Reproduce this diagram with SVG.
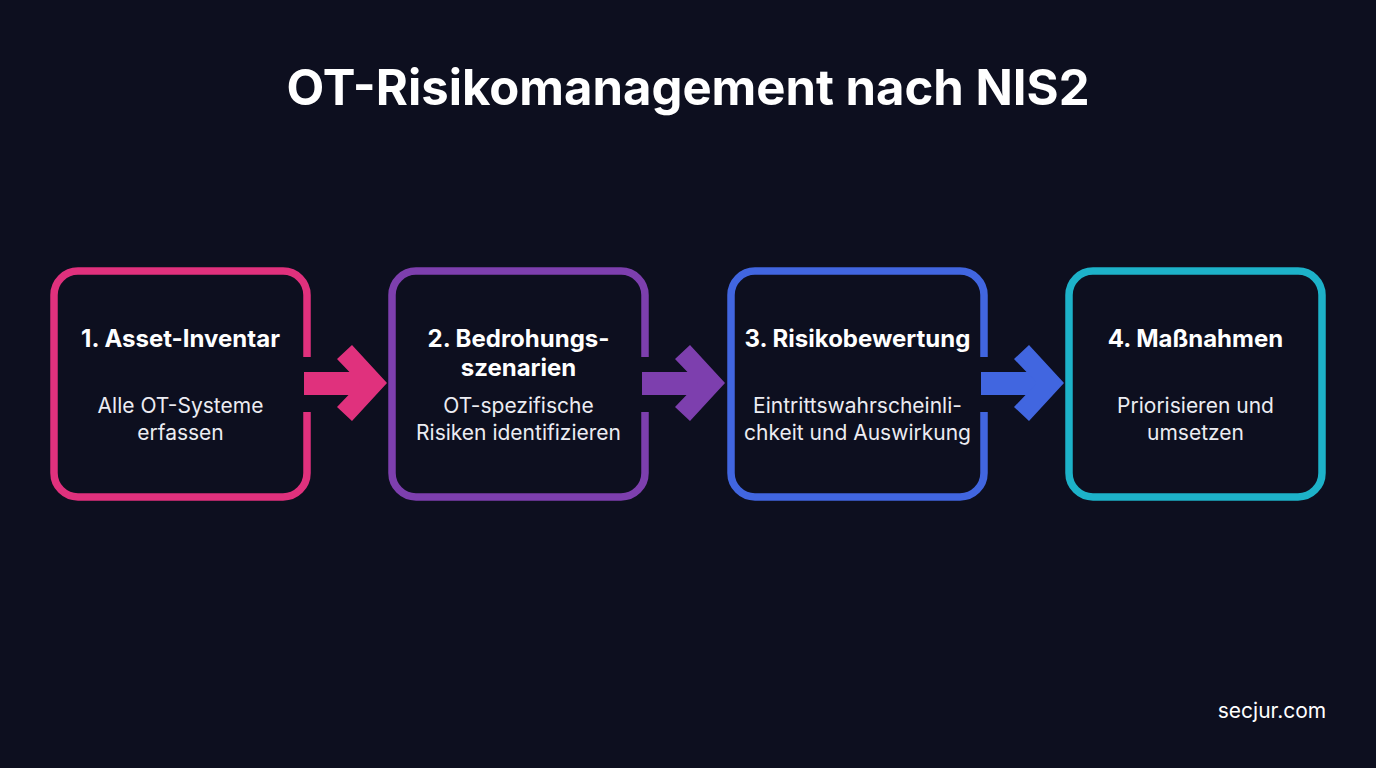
<svg xmlns="http://www.w3.org/2000/svg" width="1376" height="768" viewBox="0 0 1376 768">
<style>
.t{font-family:Inter,"Liberation Sans",sans-serif;fill:#ffffff;text-anchor:middle}
.title{font-size:49px;font-weight:700}
.h{font-size:24px;font-weight:700}
.s{font-size:21px;font-weight:400;fill:#ececf2}
.box{fill:none;stroke-width:7.5}
</style>
<rect width="1376" height="768" fill="#0d0f1f"/>
<text class="t title" x="688" y="105">OT-Risikomanagement nach NIS2</text>

<g id="connectors">
  <g id="c1" fill="#e0317d">
    <rect x="304" y="372" width="62" height="23"/>
    <polygon points="352,345 387,383 352,421 337,407 360,383 337,359"/>
  </g>
  <g id="c2" fill="#7d3fae">
    <rect x="642" y="372" width="62" height="23"/>
    <polygon points="690,345 725,383 690,421 675,407 698,383 675,359"/>
  </g>
  <g id="c3" fill="#4166e0">
    <rect x="981" y="372" width="62" height="23"/>
    <polygon points="1029,345 1064,383 1029,421 1014,407 1037,383 1014,359"/>
  </g>
</g>

<g id="n1">
  <path class="box" stroke="#e0317d" d="M307,412 V473 A24,24 0 0 1 283,497 H78 A24,24 0 0 1 54,473 V295 A24,24 0 0 1 78,271 H283 A24,24 0 0 1 307,295 V357"/>
  <text class="t h" x="180.5" y="347">1. Asset-Inventar</text>
  <text class="t s" x="180.5" y="413">Alle OT-Systeme</text>
  <text class="t s" x="180.5" y="440">erfassen</text>
</g>
<g id="n2">
  <path class="box" stroke="#7d3fae" d="M645,412 V473 A24,24 0 0 1 621,497 H416 A24,24 0 0 1 392,473 V295 A24,24 0 0 1 416,271 H621 A24,24 0 0 1 645,295 V357"/>
  <text class="t h" x="518.5" y="347">2. Bedrohungs-</text>
  <text class="t h" x="518.5" y="376">szenarien</text>
  <text class="t s" x="518.5" y="413">OT-spezifische</text>
  <text class="t s" x="518.5" y="440">Risiken identifizieren</text>
</g>
<g id="n3">
  <path class="box" stroke="#4166e0" d="M984,412 V473 A24,24 0 0 1 960,497 H755 A24,24 0 0 1 731,473 V295 A24,24 0 0 1 755,271 H960 A24,24 0 0 1 984,295 V357"/>
  <text class="t h" x="857.5" y="347">3. Risikobewertung</text>
  <text class="t s" x="857.5" y="413">Eintrittswahrscheinli-</text>
  <text class="t s" x="857.5" y="440">chkeit und Auswirkung</text>
</g>
<g id="n4">
  <rect class="box" stroke="#1db2c9" x="1069" y="271" width="253" height="226" rx="24"/>
  <text class="t h" x="1195.5" y="347">4. Maßnahmen</text>
  <text class="t s" x="1195.5" y="413">Priorisieren und</text>
  <text class="t s" x="1195.5" y="440">umsetzen</text>
</g>

<text class="t s" x="1272" y="718" style="fill:#ffffff">secjur.com</text>
</svg>
